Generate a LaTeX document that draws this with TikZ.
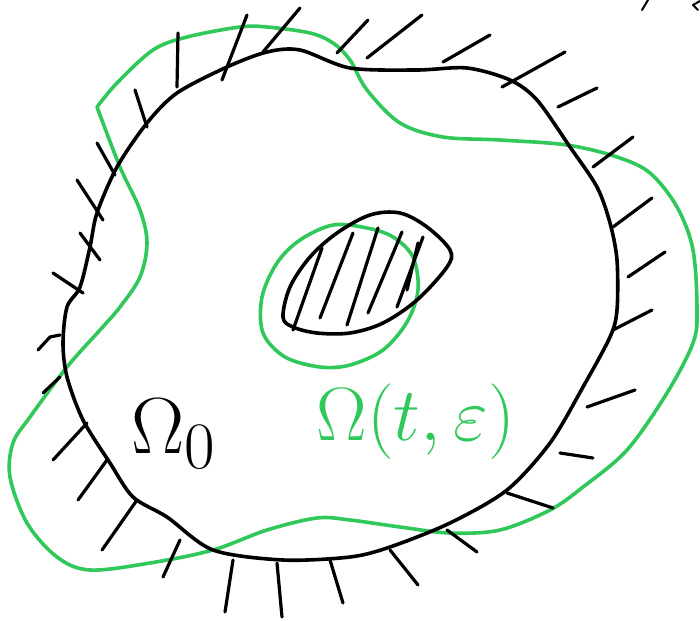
\documentclass[tikz,border=0pt]{standalone}
\usepackage{tikz}
\definecolor{pen}{RGB}{48,200,90}
\begin{document}
\begin{tikzpicture}[x=1pt,y=-1pt,line cap=round,line join=round,
 ink/.style={draw=black,line width=3.6pt},
 gink/.style={draw=pen,line width=3.6pt},
 tick/.style={draw=black,line width=3.2pt},
 lab/.style={scale=3.2,font=\Huge,inner sep=0pt}]
\useasboundingbox (0,0) rectangle (700,620);
\draw[gink] plot[smooth,tension=0.55] coordinates {(97,107) (117,83) (153,50) (187,37) (240,27) (267,27) (310,33) (333,43) (350,60) (367,90) (400,123) (443,137) (500,140) (567,145) (617,157) (650,173) (677,207) (693,250) (697,310) (693,343) (667,393) (627,450) (583,487) (550,510) (500,530) (450,533) (400,527) (350,520) (317,518) (267,530) (213,550) (150,563) (90,570) (57,557) (27,523) (10,477) (13,443) (30,417) (67,367) (100,330) (120,307) (140,277) (147,243) (140,210) (120,167) (97,107)};
\draw[gink] plot[smooth cycle,tension=0.55] coordinates {(333,225) (300,240) (277,263) (262,297) (263,333) (285,357) (320,367) (350,365) (383,350) (407,322) (418,290) (413,257) (393,237) (367,228)};
\draw[ink] plot[smooth cycle,tension=0.5] coordinates {(300,50) (350,68) (417,70) (467,68) (510,80) (537,100) (570,147) (597,187) (610,223) (617,260) (617,310) (610,337) (583,387) (550,443) (507,490) (450,523) (390,547) (350,557) (283,560) (213,550) (167,517) (133,497) (110,463) (83,420) (67,377) (63,343) (67,307) (80,287) (90,247) (97,213) (117,167) (147,123) (177,93) (227,67) (267,52)};
\draw[ink] plot[smooth cycle,tension=0.55] coordinates {(283,317) (290,287) (310,257) (337,233) (370,215) (400,213) (427,227) (450,250) (447,267) (417,300) (383,323) (350,333) (317,333) (293,327)};
\foreach \a/\b/\c/\d in {293/330/322/248,320/318/353/233,347/325/378/228,368/313/402/232,397/307/423/237,407/290/418/243}
 \draw[tick] (\a,\b) -- (\c,\d);
\foreach \a/\b/\c/\d in {178/33/177/87,247/15/222/80,300/8/263/52,337/53/368/20,367/58/422/15,443/62/490/35,502/87/565/52,558/107/597/88,593/167/633/137,613/227/652/198,628/277/665/252,613/330/652/310,587/407/635/390,560/453/593/458,507/493/553/508,447/530/477/552,390/550/418/585,330/560/343/603,277/563/282/617,233/560/225/612,180/540/163/577,137/500/102/550,107/460/78/500,87/423/53/460,60/377/43/393,83/293/53/273,100/260/80/233,103/220/77/180,115/175/97/143,147/127/135/90}
 \draw[tick] (\a,\b) -- (\c,\d);
\draw[tick] (38,350) -- (50,337) -- (60,335);
\draw[tick,line width=2pt] (642,10) -- (648,0);
\draw[tick,line width=2pt] (700,1) -- (693,5) -- (698,10);
\node[lab,anchor=base west] (om0) at (131,453) {$\Omega_0$};
\node[lab,text=pen,scale=0.95,anchor=base west] (omt) at (316,440) {$\Omega(t,\varepsilon)$};
\end{tikzpicture}
\end{document}
